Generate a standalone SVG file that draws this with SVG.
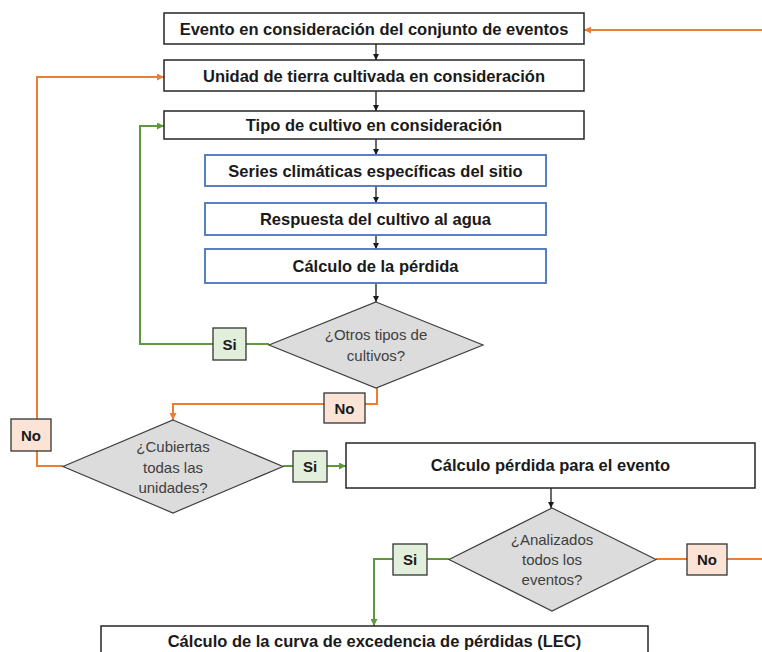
<svg xmlns="http://www.w3.org/2000/svg" width="762" height="652" viewBox="0 0 762 652">
<style>
.box{fill:#fff;stroke:#262626;stroke-width:1.5}
.bbox{fill:#fff;stroke:#4a72c0;stroke-width:1.8}
.dia{fill:#dcdcdc;stroke:#404040;stroke-width:1.2}
.si{fill:#e2efda;stroke:#333;stroke-width:1.3}
.no{fill:#fbe4d5;stroke:#333;stroke-width:1.3}
.t{font-family:"Liberation Sans",Arial,sans-serif;font-weight:bold;font-size:16.5px;fill:#1a1a1a;text-anchor:middle}
.d{font-family:"Liberation Sans",Arial,sans-serif;font-size:15px;fill:#404040;text-anchor:middle}
.l{font-family:"Liberation Sans",Arial,sans-serif;font-weight:bold;font-size:15px;fill:#1a1a1a;text-anchor:middle}
.k{fill:none;stroke:#1a1a1a;stroke-width:1.3}
.o{fill:none;stroke:#ed7d31;stroke-width:2}
.g{fill:none;stroke:#5e9a3c;stroke-width:2}
</style>
<defs>
<marker id="ak" viewBox="0 0 10 10" refX="10" refY="5" markerWidth="6" markerHeight="6" orient="auto" markerUnits="userSpaceOnUse"><path d="M0,0 L10,5 L0,10 z" fill="#1a1a1a"/></marker>
<marker id="ao" viewBox="0 0 10 10" refX="10" refY="5" markerWidth="7" markerHeight="7" orient="auto" markerUnits="userSpaceOnUse"><path d="M0,0 L10,5 L0,10 z" fill="#ed7d31"/></marker>
<marker id="ag" viewBox="0 0 10 10" refX="10" refY="5" markerWidth="7" markerHeight="7" orient="auto" markerUnits="userSpaceOnUse"><path d="M0,0 L10,5 L0,10 z" fill="#5e9a3c"/></marker>
</defs>
<rect width="762" height="652" fill="#fff"/>
<g id="connectors">
<path class="k" d="M376,44 V60" marker-end="url(#ak)"/>
<path class="k" d="M376,91 V111" marker-end="url(#ak)"/>
<path class="k" d="M376,139 V155" marker-end="url(#ak)"/>
<path class="k" d="M376,186 V203" marker-end="url(#ak)"/>
<path class="k" d="M376,235 V249" marker-end="url(#ak)"/>
<path class="k" d="M376,283 V302" marker-end="url(#ak)"/>
<path class="k" d="M551,488 V508" marker-end="url(#ak)"/>
<path class="o" d="M762,30 H584" marker-end="url(#ao)"/>
<path class="g" d="M269,344 H246"/>
<path class="g" d="M213,344 H140 V126 H164" marker-end="url(#ag)"/>
<path class="o" d="M377,388 V404 H365"/>
<path class="o" d="M324,404 H173 V420" marker-end="url(#ao)"/>
<path class="o" d="M63,466 H37 V451"/>
<path class="o" d="M37,419 V77 H164" marker-end="url(#ao)"/>
<path class="g" d="M283,466 H293"/>
<path class="g" d="M327,466 H346" marker-end="url(#ag)"/>
<path class="g" d="M449,559 H427"/>
<path class="g" d="M393,559 H374 V626" marker-end="url(#ag)"/>
<path class="o" d="M656,559 H687"/>
<path class="o" d="M727,559 H762"/>
</g>
<g id="n1"><rect class="box" x="164" y="13" width="420" height="31"/><text class="t" x="374" y="34.5">Evento en consideración del conjunto de eventos</text></g>
<g id="n2"><rect class="box" x="164" y="60" width="420" height="31"/><text class="t" x="374" y="81.5">Unidad de tierra cultivada en consideración</text></g>
<g id="n3"><rect class="box" x="164" y="111" width="420" height="28"/><text class="t" x="374" y="131">Tipo de cultivo en consideración</text></g>
<g id="n4"><rect class="bbox" x="205" y="155" width="341" height="31"/><text class="t" x="375.5" y="176.5">Series climáticas específicas del sitio</text></g>
<g id="n5"><rect class="bbox" x="205" y="203" width="341" height="32"/><text class="t" x="375.5" y="225">Respuesta del cultivo al agua</text></g>
<g id="n6"><rect class="bbox" x="205" y="249" width="341" height="34"/><text class="t" x="375.5" y="272">Cálculo de la pérdida</text></g>
<g id="d1"><polygon class="dia" points="376,302 483,345 376,388 269,345"/><text class="d" x="376" y="340">¿Otros tipos de</text><text class="d" x="376" y="361">cultivos?</text></g>
<g id="si1"><rect class="si" x="213" y="328" width="33" height="32"/><text class="l" x="229.5" y="349.5">Si</text></g>
<g id="no1"><rect class="no" x="324" y="393" width="41" height="30"/><text class="l" x="344.5" y="413.5">No</text></g>
<g id="d2"><polygon class="dia" points="173,420 283,466.5 173,513 63,466.5"/><text class="d" x="173" y="452">¿Cubiertas</text><text class="d" x="173" y="472.5">todas las</text><text class="d" x="173" y="493">unidades?</text></g>
<g id="no2"><rect class="no" x="11" y="419" width="40" height="32"/><text class="l" x="31" y="440.5">No</text></g>
<g id="si2"><rect class="si" x="293" y="451" width="34" height="31"/><text class="l" x="310" y="472">Si</text></g>
<g id="n7"><rect class="box" x="346" y="443" width="409" height="45"/><text class="t" x="550.5" y="471">Cálculo pérdida para el evento</text></g>
<g id="d3"><polygon class="dia" points="552,508 656,559.5 552,611 449,559.5"/><text class="d" x="552" y="545">¿Analizados</text><text class="d" x="552" y="565">todos los</text><text class="d" x="552" y="585">eventos?</text></g>
<g id="si3"><rect class="si" x="393" y="544" width="34" height="31"/><text class="l" x="410" y="565">Si</text></g>
<g id="no3"><rect class="no" x="687" y="544" width="40" height="31"/><text class="l" x="707" y="565">No</text></g>
<g id="n8"><rect class="box" x="101" y="626" width="547" height="40"/><text class="t" x="374.5" y="647">Cálculo de la curva de excedencia de pérdidas (LEC)</text></g>
</svg>
